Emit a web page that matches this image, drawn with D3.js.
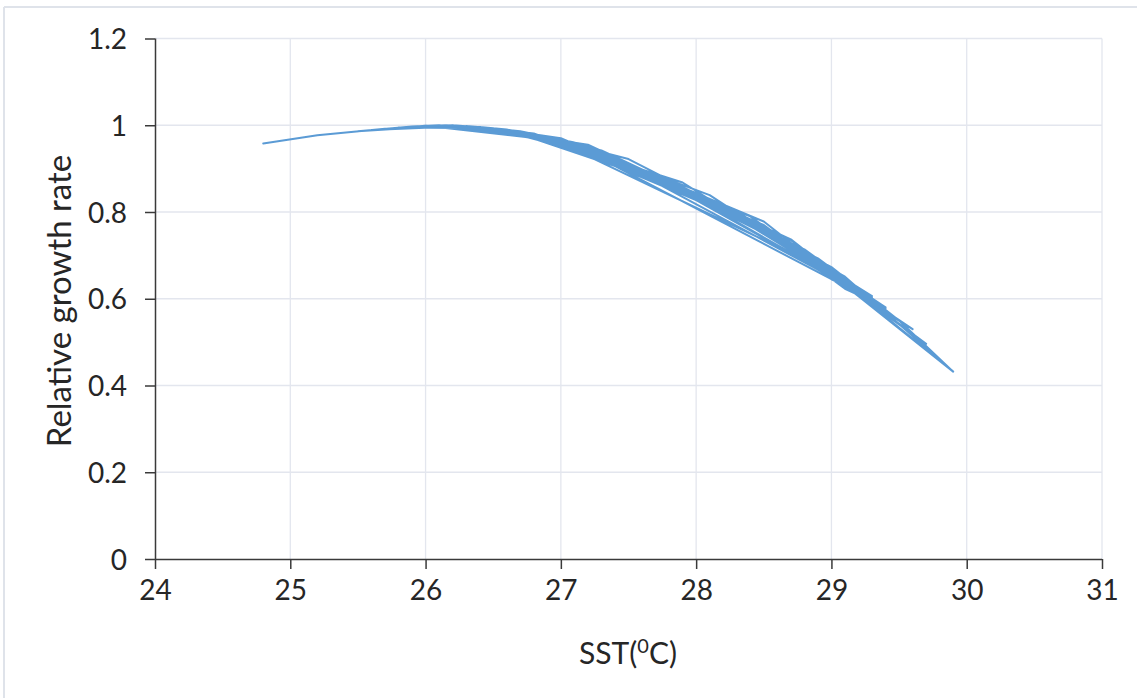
<!DOCTYPE html>
<html>
<head>
<meta charset="utf-8">
<script src="https://cdn.jsdelivr.net/npm/d3@7"></script>
<style>
  html, body { margin: 0; padding: 0; background: #ffffff; }
  svg { display: block; }
  text { font-family: Lato, "Open Sans", sans-serif; fill: #262626; }
</style>
</head>
<body>
<svg id="chart" width="1137" height="698"></svg>
<script>
// Sea surface temperature sequence (°C), in observation order
const sst = [
  24.8, 25.2, 25.7, 26.3, 27.1, 28.2, 29.0, 28.6, 27.6, 26.9, 26.4, 25.9,
  26.1, 26.8, 27.8, 28.7, 29.2, 28.4, 27.3, 26.6, 26.2, 26.7, 27.5, 28.5,
  29.1, 29.4, 28.8, 27.7, 26.8, 26.3, 25.6, 26.0, 26.9, 27.9, 28.9, 29.3,
  28.5, 27.4, 26.6, 26.4, 27.0, 28.3, 29.1, 29.6, 29.0, 28.1, 27.2, 26.5,
  26.2, 26.8, 27.6, 28.8, 29.4, 29.0, 27.0, 26.6, 26.3, 27.2, 28.4, 29.2,
  29.5, 28.7, 27.5, 26.9, 26.5, 26.7, 27.3, 28.6, 29.3, 29.9, 29.1, 28.0,
  26.9, 26.4, 26.1, 26.6, 27.7, 28.9, 29.4, 28.3, 27.1, 26.7, 26.4, 26.8,
  27.9, 29.0, 29.5, 29.2, 28.2, 27.0, 26.5, 25.8, 26.2, 27.1, 29.0, 29.3,
  28.6, 27.8, 26.8, 26.4, 26.6, 27.4, 28.5, 29.2, 29.7, 29.1, 27.9, 27.0,
  26.6, 26.3, 26.9, 27.8, 28.7, 29.3, 29.0, 28.1, 27.3, 26.7, 26.2, 25.5,
  25.9, 26.5, 27.3, 28.4, 29.1, 29.5, 29.9, 29.2, 28.5, 27.6, 26.8, 26.4,
  26.7, 27.5, 28.8, 29.4, 28.9, 27.2, 26.6, 26.3, 26.8, 27.8, 28.7, 29.1
];
// Relative growth rate for each SST value above
const growth = [
  0.958, 0.977, 0.992, 0.998, 0.959, 0.810, 0.671, 0.742, 0.885, 0.973, 0.996, 0.997,
  1.000, 0.975, 0.865, 0.737, 0.612, 0.790, 0.922, 0.990, 1.000, 0.986, 0.922, 0.762,
  0.623, 0.580, 0.704, 0.877, 0.981, 0.998, 0.989, 0.999, 0.967, 0.868, 0.673, 0.606,
  0.762, 0.906, 0.990, 0.996, 0.968, 0.803, 0.627, 0.530, 0.655, 0.839, 0.944, 0.993,
  1.000, 0.980, 0.897, 0.688, 0.580, 0.661, 0.959, 0.990, 0.998, 0.955, 0.780, 0.622,
  0.550, 0.735, 0.908, 0.962, 0.993, 0.986, 0.938, 0.746, 0.584, 0.432, 0.651, 0.844,
  0.972, 0.996, 1.000, 0.990, 0.879, 0.693, 0.578, 0.787, 0.960, 0.986, 0.996, 0.975,
  0.852, 0.673, 0.550, 0.622, 0.810, 0.970, 0.993, 0.995, 1.000, 0.955, 0.645, 0.602,
  0.746, 0.865, 0.981, 0.996, 0.990, 0.916, 0.770, 0.608, 0.496, 0.635, 0.848, 0.968,
  0.990, 0.998, 0.970, 0.865, 0.737, 0.590, 0.665, 0.825, 0.942, 0.986, 1.000, 0.986,
  0.997, 0.993, 0.928, 0.770, 0.645, 0.550, 0.432, 0.606, 0.778, 0.895, 0.977, 0.996,
  0.986, 0.902, 0.714, 0.578, 0.667, 0.952, 0.990, 0.998, 0.975, 0.865, 0.737, 0.633
];

const xTicks = [24, 25, 26, 27, 28, 29, 30, 31];
const yTicks = [0, 0.2, 0.4, 0.6, 0.8, 1, 1.2];
const xTitle = "SST(";
const xTitleSup = "0";
const xTitleEnd = "C)";
const yTitle = "Relative growth rate";

const svg = d3.select("#chart");

// outer chart frame (top and left edges)
svg.append("line").attr("x1", 4).attr("x2", 1137).attr("y1", 7).attr("y2", 7)
  .attr("stroke", "#dfe3ea").attr("stroke-width", 2);
svg.append("line").attr("x1", 4).attr("x2", 4).attr("y1", 7).attr("y2", 698)
  .attr("stroke", "#dfe3ea").attr("stroke-width", 2);

const plot = { left: 155, right: 1102, top: 38.5, bottom: 559 };

const x = d3.scaleLinear().domain([24, 31]).range([plot.left, plot.right]);
const y = d3.scaleLinear().domain([0, 1.2]).range([plot.bottom, plot.top]);

// gridlines
const grid = svg.append("g");
grid.selectAll("line.v").data(xTicks.slice(1)).join("line")
  .attr("x1", d => x(d)).attr("x2", d => x(d))
  .attr("y1", plot.top).attr("y2", plot.bottom)
  .attr("stroke", "#e3e6ee").attr("stroke-width", 1.3);
grid.selectAll("line.h").data(yTicks.slice(1)).join("line")
  .attr("x1", plot.left).attr("x2", plot.right)
  .attr("y1", d => y(d)).attr("y2", d => y(d))
  .attr("stroke", "#e3e6ee").attr("stroke-width", 1.3);

// growth curve: consecutive observations joined by straight segments
const pts = sst.map((t, i) => [t, growth[i]]);
svg.append("path")
  .datum(pts)
  .attr("fill", "none")
  .attr("stroke", "#5b9bd5")
  .attr("stroke-width", 2)
  .attr("stroke-linejoin", "round")
  .attr("stroke-linecap", "round")
  .attr("d", d3.line().x(d => x(d[0])).y(d => y(d[1])));

// axes
const xAxis = d3.axisBottom(x).tickValues(xTicks).tickSize(10).tickPadding(11)
  .tickFormat(d3.format("d"));
const gx = svg.append("g").attr("transform", `translate(0,${plot.bottom})`).call(xAxis);
const yAxis = d3.axisLeft(y).tickValues(yTicks).tickSize(10).tickPadding(18)
  .tickFormat(d => String(d));
const gy = svg.append("g").attr("transform", `translate(${plot.left},0)`).call(yAxis);

[gx, gy].forEach(g => {
  g.select(".domain").attr("stroke", "#3a3a3a").attr("stroke-width", 1.5);
  g.selectAll(".tick line").attr("stroke", "#3a3a3a").attr("stroke-width", 1.5);
  g.selectAll(".tick text").attr("fill", "#262626")
    .style("font-size", "28px").style("font-family", "Lato, 'Open Sans', sans-serif");
});
gx.select(".domain").attr("d", `M${plot.left},0.5H${plot.right}`);
gy.select(".domain").attr("d", `M0.5,${plot.top}V${plot.bottom}`);
gx.selectAll(".tick text").attr("dy", "0.71em");
gy.selectAll(".tick text").attr("dy", "0.36em");

// axis titles
const xt = svg.append("text")
  .attr("x", 628).attr("y", 664)
  .attr("text-anchor", "middle")
  .style("font-size", "30px");
xt.append("tspan").text(xTitle);
xt.append("tspan").attr("dy", -11).style("font-size", "20px").text(xTitleSup);
xt.append("tspan").attr("dy", 11).text(xTitleEnd);

svg.append("text")
  .attr("transform", "translate(71,301) rotate(-90)")
  .attr("text-anchor", "middle")
  .style("font-size", "33px")
  .text(yTitle);
</script>
</body>
</html>
